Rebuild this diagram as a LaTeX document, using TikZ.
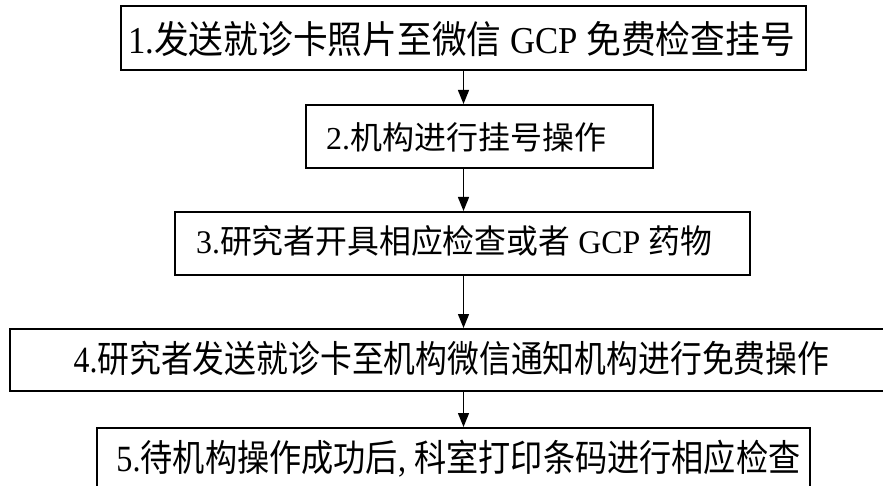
\documentclass[tikz,border=0pt]{standalone}
\usepackage{fontspec}
\setmainfont{Liberation Serif}
\newfontfamily\cjkfont{Noto Sans CJK SC}
\newcommand\zh[1]{{\cjkfont #1}}
\usetikzlibrary{arrows.meta}
\begin{document}
\begin{tikzpicture}[x=1pt,y=-1pt,
  box/.style={draw=black, line width=2pt, fill=white, inner sep=0pt},
  lbl/.style={inner sep=0pt, anchor=center},
  arr/.style={line width=1.3pt, -{Triangle[width=11pt,length=14pt]}}]
\clip (0,0) rectangle (883,486);
\fill[white] (0,0) rectangle (883,486);
% boxes
\node[box, minimum width=685pt, minimum height=64pt] (b1) at (463.5,38) {};
\node[box, minimum width=347pt, minimum height=63pt] (b2) at (479.5,136.5) {};
\node[box, minimum width=575pt, minimum height=63pt] (b3) at (462.5,243.5) {};
\node[box, minimum width=885pt, minimum height=62pt] (b4) at (452.5,360) {};
\node[box, minimum width=713pt, minimum height=66pt] (b5) at (453.5,461) {};
% texts
\node[lbl] (t1) at (461.5,39)
  {\fontsize{38}{40}\selectfont\scalebox{0.914}[1]{1.\zh{发送就诊卡照片至微信} GCP \zh{免费检查挂号}}};
\node[lbl] (t2) at (466,137)
  {\fontsize{32}{34}\selectfont 2.\zh{机构进行挂号操作}};
\node[lbl] (t3) at (454,241)
  {\fontsize{33}{35}\selectfont\scalebox{0.965}[1]{3.\zh{研究者开具相应检查或者} GCP \zh{药物}}};
\node[lbl] (t4) at (451.5,358)
  {\fontsize{37}{39}\selectfont\scalebox{0.86}[1]{4.\zh{研究者发送就诊卡至机构微信通知机构进行免费操作}}};
\node[lbl] (t5) at (458.5,459)
  {\fontsize{37}{39}\selectfont\scalebox{0.87}[1]{5.\zh{待机构操作成功后}, \zh{科室打印条码进行相应检查}}};
% connectors
\draw[arr] (b1.south) -- (b1.south |- b2.north);
\draw[arr] (b1.south |- b2.south) -- (b1.south |- b3.north);
\draw[arr] (b1.south |- b3.south) -- (b1.south |- b4.north);
\draw[arr] (b1.south |- b4.south) -- (b1.south |- b5.north);
\end{tikzpicture}
\end{document}
